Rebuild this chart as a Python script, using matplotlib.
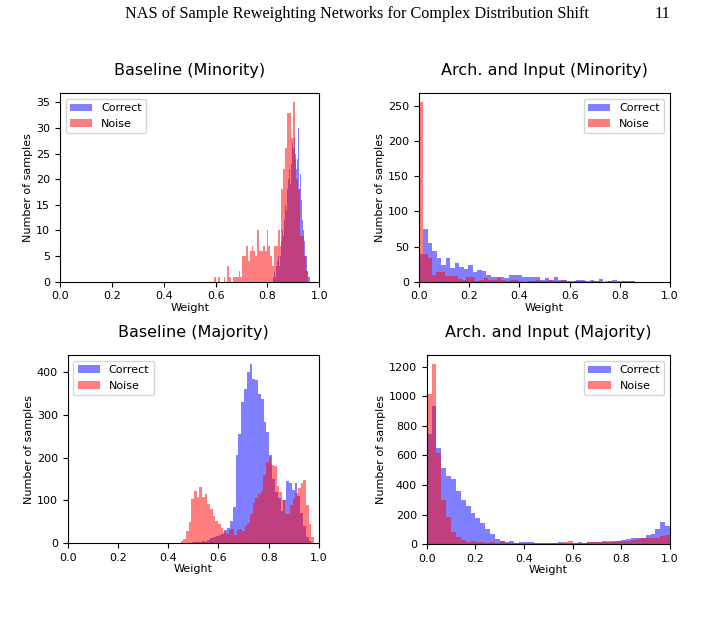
import matplotlib
matplotlib.use("Agg")
import matplotlib.pyplot as plt
import numpy as np

# ---- Baseline (Minority) ----
bm_noise_range = (0.595, 0.955)
bm_noise = [1, 0, 1, 0, 0, 1, 0, 3, 1, 0, 1, 1, 1, 2, 1, 5, 5, 7, 4, 6,
            7, 6, 5, 10, 6, 6, 7, 6, 10, 7, 5, 3, 7, 7, 10, 7, 18, 22, 26, 33,
            33, 28, 35, 24, 20, 18, 9, 9, 5, 2]
bm_correct_range = (0.821, 0.963)
bm_correct = [1, 0, 2, 1, 3, 2, 4, 5, 3, 6, 5, 8, 7, 10, 9, 12, 11, 15, 14, 18,
              17, 20, 22, 19, 24, 23, 27, 26, 35, 28, 25, 27, 22, 24, 30, 20, 18, 21, 16, 14,
              12, 10, 8, 9, 5, 5, 4, 2, 1, 1]

# ---- Arch. and Input (Minority) ----
am_correct_range = (0.0, 0.86)
am_correct = [40, 75, 55, 44, 34, 24, 34, 20, 26, 21, 18, 24, 14, 17, 15, 9, 7, 7, 7, 5,
              10, 9, 10, 7, 7, 7, 6, 3, 5, 3, 7, 2, 2, 1, 1, 2, 2, 1, 2, 1,
              4, 0, 1, 2, 1, 1, 1, 1]
am_noise_range = (0.0, 0.86)
am_noise = [255, 40, 34, 10, 14, 14, 8, 8, 8, 4, 2, 6, 6, 1, 3, 5, 2, 2, 5, 2,
            1, 3, 3, 1, 0, 1, 1, 2, 1, 1, 2, 1, 1, 2, 1, 0, 1, 1, 1, 0,
            1, 1, 0, 1, 1, 0, 0, 1, 0, 1]

# ---- Baseline (Majority) ----
bj_noise_range = (0.45, 0.98)
bj_noise = [6, 9, 29, 50, 103, 122, 108, 131, 108, 115, 92, 79, 64, 53, 45, 35, 27, 22, 30, 33,
            20, 30, 33, 28, 40, 47, 68, 93, 105, 115, 122, 160, 190, 202, 183, 180, 134, 119, 100, 69,
            68, 89, 105, 117, 130, 140, 148, 90, 45, 15]
bj_correct_range = (0.50, 0.97)
bj_correct = [2, 3, 2, 5, 3, 8, 12, 14, 18, 20, 22, 30, 35, 53, 85, 206, 255, 329, 359, 400,
              418, 382, 381, 347, 337, 283, 260, 205, 150, 120, 105, 75, 100, 145, 140, 125, 140, 110, 70, 40,
              15, 5]

# ---- Arch. and Input (Majority) ----
aj_correct_range = (0.0, 1.0)
aj_correct = [748, 933, 650, 515, 459, 443, 357, 296, 260, 210, 176, 142, 102, 72, 38, 25, 15, 20, 8, 15,
              15, 15, 10, 8, 8, 6, 8, 15, 10, 12, 12, 15, 12, 15, 18, 15, 20, 18, 22, 25,
              30, 35, 40, 40, 45, 60, 70, 105, 150, 122]
aj_noise_range = (0.0, 1.0)
aj_noise = [1012, 1216, 617, 300, 183, 81, 52, 29, 18, 20, 15, 15, 12, 15, 10, 20, 12, 8, 10, 8,
            8, 10, 8, 6, 8, 10, 12, 8, 15, 20, 10, 8, 12, 15, 15, 15, 15, 20, 18, 20,
            25, 22, 30, 35, 40, 42, 45, 45, 58, 63]

panels = [
    ("Baseline (Minority)", bm_correct_range, bm_correct, bm_noise_range, bm_noise, "upper left"),
    ("Arch. and Input (Minority)", am_correct_range, am_correct, am_noise_range, am_noise, "upper right"),
    ("Baseline (Majority)", bj_correct_range, bj_correct, bj_noise_range, bj_noise, "upper left"),
    ("Arch. and Input (Majority)", aj_correct_range, aj_correct, aj_noise_range, aj_noise, "upper right"),
]

# axes rectangles in figure fractions
rects = [
    [0.0853, 0.5478, 0.3689, 0.3024],
    [0.5960, 0.5478, 0.3570, 0.3024],
    [0.0963, 0.1279, 0.3575, 0.3022],
    [0.6070, 0.1263, 0.3461, 0.3034],
]

fig = plt.figure(figsize=(7.03, 6.23), dpi=100)

fig.text(0.178, 0.977, "NAS of Sample Reweighting Networks for Complex Distribution Shift",
         family="Liberation Serif", fontsize=11.7, va="center", ha="left")
fig.text(0.953, 0.977, "11", family="Liberation Serif", fontsize=11.7, va="center", ha="right")

for (title, c_rng, c_cnt, n_rng, n_cnt, loc), rect in zip(panels, rects):
    ax = fig.add_axes(rect)
    c_edges = np.linspace(c_rng[0], c_rng[1], len(c_cnt) + 1)
    n_edges = np.linspace(n_rng[0], n_rng[1], len(n_cnt) + 1)
    c_mid = (c_edges[:-1] + c_edges[1:]) / 2
    n_mid = (n_edges[:-1] + n_edges[1:]) / 2
    ax.hist(c_mid, bins=c_edges, weights=c_cnt, color="blue", alpha=0.5, label="Correct")
    ax.hist(n_mid, bins=n_edges, weights=n_cnt, color="red", alpha=0.5, label="Noise")
    ax.set_xlim(0, 1)
    ax.set_xticks([0.0, 0.2, 0.4, 0.6, 0.8, 1.0])
    ax.tick_params(labelsize=8)
    ax.set_xlabel("Weight", fontsize=8, labelpad=1)
    ax.set_ylabel("Number of samples", fontsize=8, labelpad=2)
    ax.set_title(title, fontsize=11.5, pad=13)
    ax.legend(loc=loc, fontsize=8)

fig.savefig("out.png", dpi=100)
